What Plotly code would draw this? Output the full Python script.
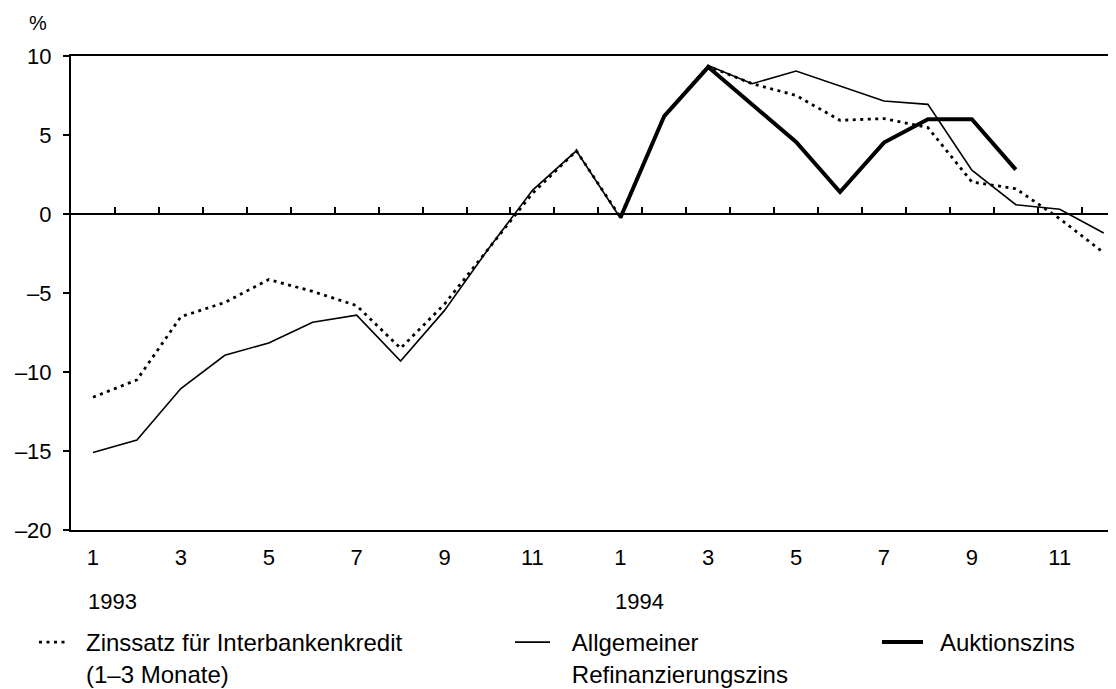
import plotly.graph_objects as go

# ---- data ----
months = list(range(1, 25))  # Jan 1993 .. Dec 1994
month_labels_vals = [1, 3, 5, 7, 9, 11, 13, 15, 17, 19, 21, 23]
month_labels_text = ["1", "3", "5", "7", "9", "11", "1", "3", "5", "7", "9", "11"]
year_labels = ["1993", "1994"]
year_positions = [1, 13]

interbank = [-11.6, -10.5, -6.5, -5.6, -4.15, -4.9, -5.8, -8.5, -5.7, -2.2, 1.3, 4.0,
             -0.2, 6.2, 9.35, 8.25, 7.5, 5.93, 6.04, 5.47, 2.03, 1.6, -0.3, -2.45]
refi = [-15.1, -14.3, -11.05, -8.94, -8.16, -6.85, -6.4, -9.3, -6.1, -2.2, 1.5, 4.0,
        -0.25, 6.2, 9.4, 8.25, 9.05, 8.1, 7.15, 6.94, 2.77, 0.59, 0.3, -1.2]
auktion = [None] * 12 + [-0.25, 6.2, 9.3, 6.9, 4.56, 1.39, 4.52, 6.0, 6.0, 2.81, None, None]

y_ticks = [-20, -15, -10, -5, 0, 5, 10]
y_ticktext = ["–20", "–15", "–10", "–5", "0", "5", "10"]
zero_ticks = [m + 0.5 for m in months[:-1]]

FONT = "Liberation Sans, Arial, Helvetica, sans-serif"
xr = [0.5, 24.28]

# the page body has an 8px margin: work in screen pixels, convert to figure pixels
OFF = 8
W, H = 1116 - OFF, 689 - OFF
L, R, T, B = 71 - OFF, 1116 - OFF, 56 - OFF, 530 - OFF
PW, PH = R - L, B - T


def px_x(p):
    return (p - OFF - L) / PW


def px_y(p):
    return (B - (p - OFF)) / PH


EN = "\u2002"
TH = "\u2009"

fig = go.Figure()
fig.add_trace(go.Scatter(
    x=months, y=interbank, mode="lines",
    name=EN + "Zinssatz für Interbankenkredit<br>" + EN + "(1–3 Monate)",
    line=dict(color="black", width=2.8, dash="3px,4.5px"),
    legend="legend", hoverinfo="skip"))
fig.add_trace(go.Scatter(
    x=months, y=refi, mode="lines",
    name=EN + TH + "Allgemeiner<br>" + EN + TH + "Refinanzierungszins",
    line=dict(color="black", width=1.6),
    legend="legend2", hoverinfo="skip"))
fig.add_trace(go.Scatter(
    x=months, y=auktion, mode="lines",
    name=EN + "Auktionszins",
    line=dict(color="black", width=4),
    legend="legend3", hoverinfo="skip", connectgaps=False))
# invisible trace carrying the zero-line axis with its ticks
fig.add_trace(go.Scatter(
    x=months, y=refi, mode="lines", xaxis="x2", yaxis="y",
    line=dict(color="rgba(0,0,0,0)", width=0), showlegend=False, hoverinfo="skip"))

leg_common = dict(yanchor="top", xanchor="left", valign="top",
                  font=dict(size=24), bgcolor="rgba(0,0,0,0)", borderwidth=0)
leg_y = px_y(620)

fig.update_layout(
    width=W, height=H,
    margin=dict(l=L, r=W - R, t=T, b=H - B, autoexpand=False),
    paper_bgcolor="white", plot_bgcolor="white",
    font=dict(family=FONT, size=22, color="black"),
    xaxis=dict(range=xr, tickvals=month_labels_vals, ticktext=month_labels_text,
               ticks="", showline=True, linecolor="black", linewidth=2, mirror=True,
               showgrid=False, zeroline=False, ticklabelstandoff=7,
               tickfont=dict(size=22)),
    xaxis2=dict(range=xr, overlaying="x", anchor="free", position=2/3, side="top",
                tickvals=zero_ticks, ticks="outside", ticklen=6, tickwidth=1.6,
                tickcolor="black", showticklabels=False, showline=True,
                linecolor="black", linewidth=1.6, showgrid=False, zeroline=False),
    yaxis=dict(range=[-20, 10], tickvals=y_ticks, ticktext=y_ticktext,
               ticks="outside", ticklen=6, tickwidth=1.6, tickcolor="black",
               showline=True, linecolor="black", linewidth=2, showgrid=False,
               zeroline=False, ticklabelstandoff=7, tickfont=dict(size=22)),
    legend=dict(x=px_x(34), y=leg_y, itemwidth=30, **leg_common),
    legend2=dict(x=px_x(510), y=leg_y, itemwidth=35, **leg_common),
    legend3=dict(x=px_x(877), y=leg_y, itemwidth=41, **leg_common),
    showlegend=True,
)

for lab, pos in zip(year_labels, year_positions):
    fig.add_annotation(text=lab, x=pos - 0.17, xref="x", xanchor="left",
                       y=px_y(601), yref="paper", yanchor="middle",
                       showarrow=False, font=dict(size=22))

fig.add_annotation(text="%", x=px_x(27), xref="paper", xanchor="left",
                   y=px_y(23), yref="paper", yanchor="middle",
                   showarrow=False, font=dict(size=20))

fig.write_html("out.html")
